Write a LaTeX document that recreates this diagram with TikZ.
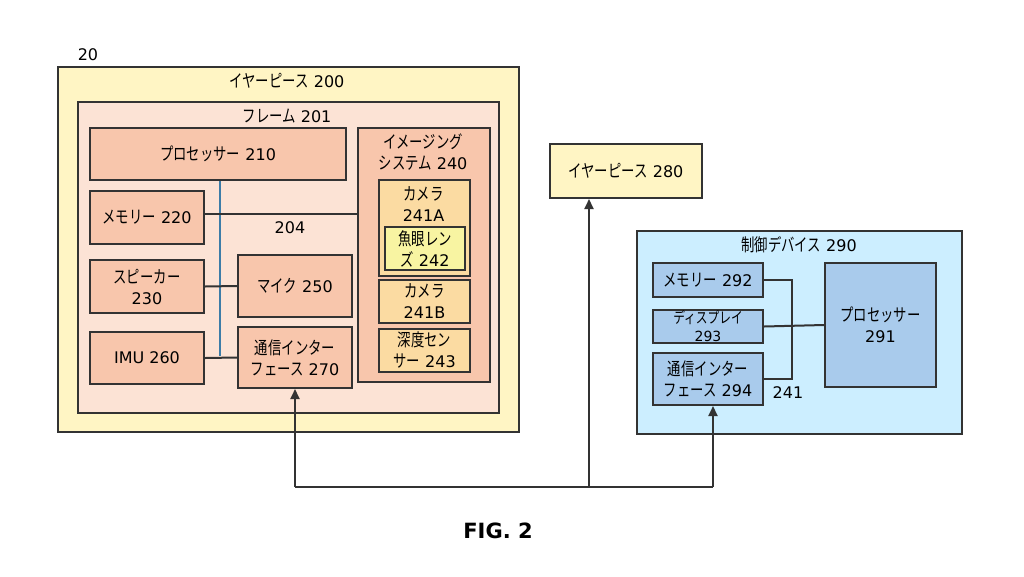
\documentclass[tikz,border=0pt]{standalone}
\usepackage{fontspec}
\setmainfont{DejaVu Sans}
\newfontfamily\jp{Noto Sans CJK JP}[FakeStretch=0.76,Scale=1.1]
\usetikzlibrary{arrows.meta}
\definecolor{bord}{HTML}{333333}
\definecolor{yel}{HTML}{FFF5C4}
\definecolor{frm}{HTML}{FCE3D5}
\definecolor{sal}{HTML}{F8C6AC}
\definecolor{cam}{HTML}{FBDBA2}
\definecolor{fish}{HTML}{F8F4A2}
\definecolor{cbg}{HTML}{CCEEFF}
\definecolor{cbx}{HTML}{A9CBEC}
\definecolor{busc}{HTML}{3C7DA8}
\begin{document}
\begin{tikzpicture}[x=1pt,y=-1pt,
  every node/.style={font=\fontsize{16}{21}\selectfont, inner sep=0pt},
  box/.style={draw=bord, line width=2pt, anchor=north west, align=center},
  txt/.style={align=center, text=black},
  wire/.style={draw=bord, line width=2pt},
  bus/.style={draw=busc, line width=1.6pt},
  arr/.style={wire, -{Triangle[length=10pt,width=9pt]}}]
\useasboundingbox (0,0) rectangle (1024,576);
% left earpiece
\node[box, fill=yel, minimum width=461, minimum height=365] (e200) at (57,66) {};
\node[txt] (t200) at (287,81) {{\jp イヤーピース} 200};
\node[txt] (t20) at (88,55) {20};
\node[box, fill=frm, minimum width=421, minimum height=311] (f201) at (77,101) {};
\node[txt] (t201) at (287,116) {{\jp フレーム} 201};
\node[box, fill=sal, minimum width=256, minimum height=52] (p210) at (89,127) {{\jp プロセッサー} 210};
\node[box, fill=sal, minimum width=114, minimum height=53] (m220) at (89,190) {{\jp メモリー} 220};
\node[box, fill=sal, minimum width=114, minimum height=53] (s230) at (89,259) {{\jp スピーカー}\\230};
\node[box, fill=sal, minimum width=114, minimum height=52] (i260) at (89,331) {IMU 260};
\node[box, fill=sal, minimum width=114, minimum height=62] (k250) at (237,254) {{\jp マイク} 250};
\node[box, fill=sal, minimum width=114, minimum height=61] (c270) at (237,326) {{\jp 通信インター}\\{\jp フェース} 270};
\node[box, fill=sal, minimum width=132, minimum height=254] (s240) at (357,127) {};
\node[txt] (t240) at (423,152) {{\jp イメージング}\\{\jp システム} 240};
\node[box, fill=cam, minimum width=91, minimum height=96] (a241) at (378,179) {};
\node[txt] (ta241) at (423.5,204) {{\jp カメラ}\\241A};
\node[box, fill=fish, minimum width=80, minimum height=43] (l242) at (384,226) {{\jp 魚眼レン}\\{\jp ズ} 242};
\node[box, fill=cam, minimum width=91, minimum height=43] (b241) at (378,279) {{\jp カメラ}\\241B};
\node[box, fill=cam, minimum width=91, minimum height=43] (d243) at (378,328) {{\jp 深度セン}\\{\jp サー} 243};
\node[txt] (t204) at (290,228) {204};
% bus
\coordinate (bx) at (220,0);
\coordinate (by) at (0,356);
\coordinate (my) at (0,214);
\draw[bus] (p210.south -| bx) -- (bx |- by);
\draw[wire] (m220.east |- my) -- (s240.west |- my);
\draw[wire] (s230.east) -- (k250.west);
\draw[wire] (i260.east) -- (c270.west);
% right side
\node[box, fill=yel, minimum width=152, minimum height=54] (e280) at (549,143) {{\jp イヤーピース} 280};
\node[box, fill=cbg, minimum width=325, minimum height=203] (c290) at (636,230) {};
\node[txt] (t290) at (799,245) {{\jp 制御デバイス} 290};
\node[box, fill=cbx, minimum width=110, minimum height=34] (m292) at (652,262) {{\jp メモリー} 292};
\node[box, fill=cbx, minimum width=110, minimum height=33, font=\fontsize{14}{18}\selectfont] (d293) at (652,309) {{\jp ディスプレイ}\\293};
\node[box, fill=cbx, minimum width=110, minimum height=52] (c294) at (652,352) {{\jp 通信インター}\\{\jp フェース} 294};
\node[box, fill=cbx, minimum width=111, minimum height=124] (p291) at (824,262) {{\jp プロセッサー}\\291};
\node[txt] (t241) at (788,393) {241};
\coordinate (rx) at (792,330);
\draw[wire] (m292.east) -| (rx) |- (c294.east);
\draw[wire] (d293.east) -- (p291.west);
% bottom network
\coordinate (j0) at (295,487);
\coordinate (j1) at (589,487);
\coordinate (j2) at (713,487);
\draw[wire] (j0) -- (j2);
\draw[arr] (j0) -- (j0 |- c270.south);
\draw[arr] (j1) -- (j1 |- e280.south);
\draw[arr] (j2) -- (j2 |- c294.south);
\node[font=\fontsize{21}{24}\selectfont\bfseries] (fig) at (498,531) {FIG. 2};
\end{tikzpicture}
\end{document}
